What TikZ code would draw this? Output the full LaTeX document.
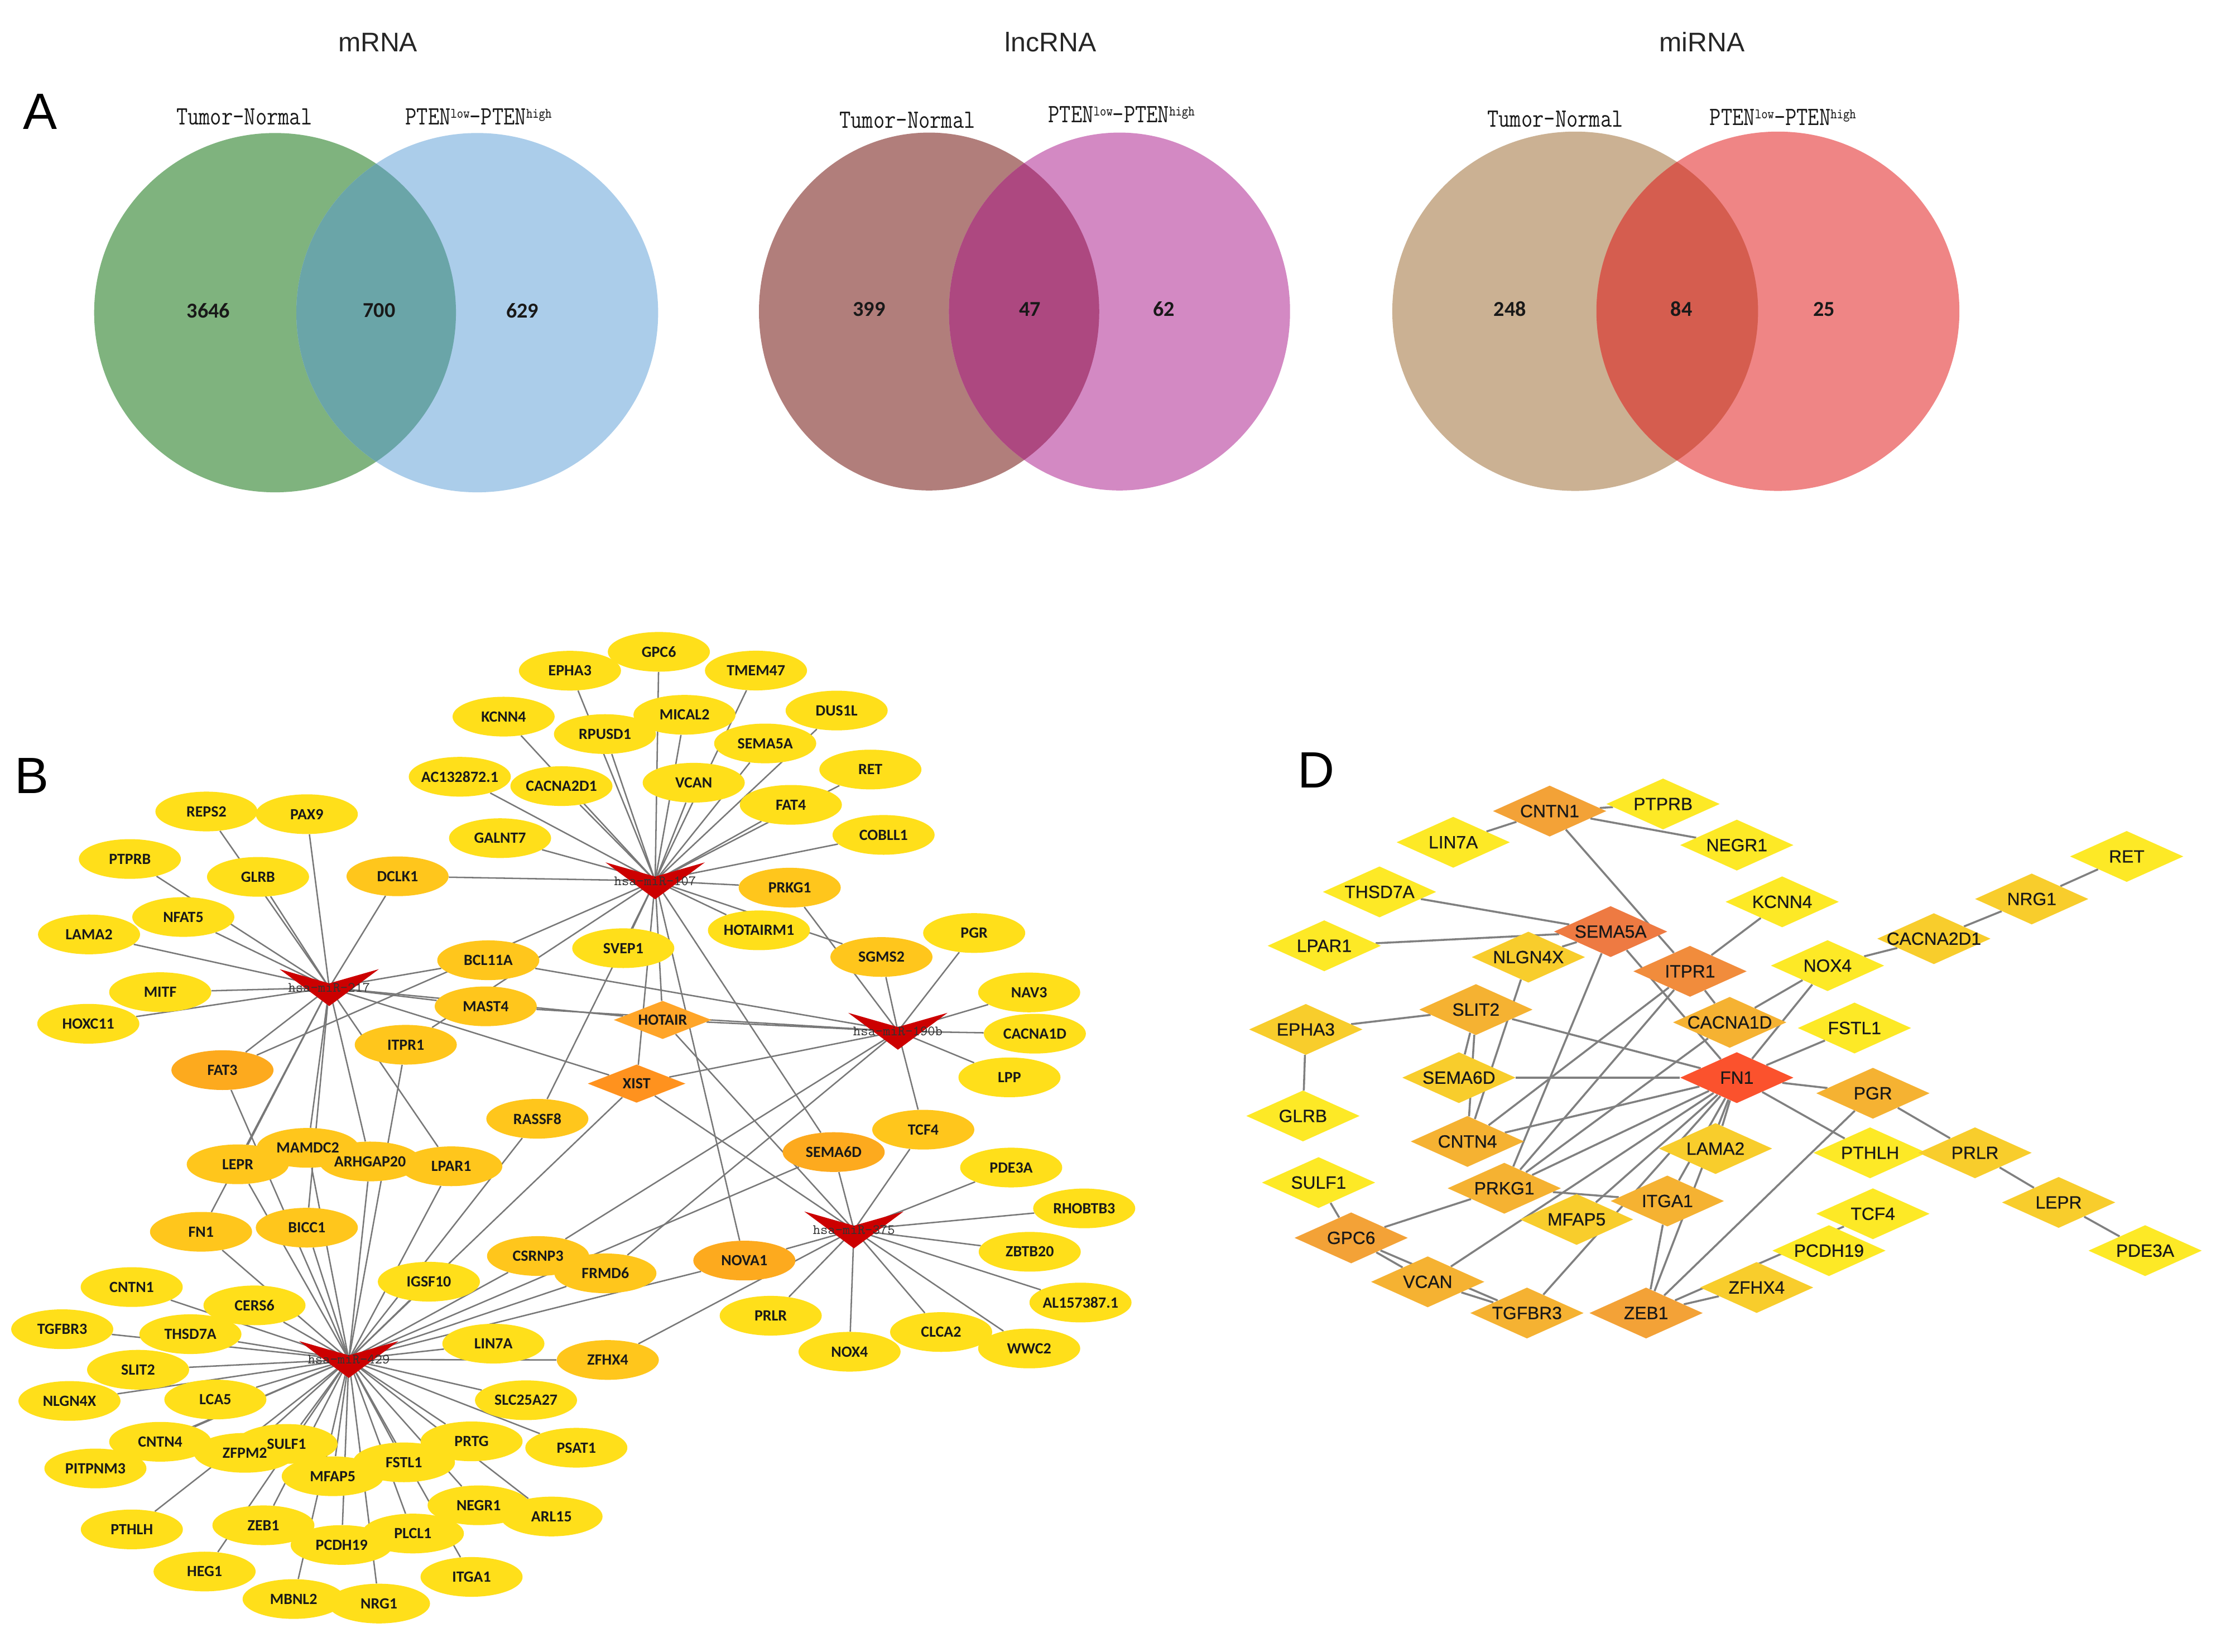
\documentclass[tikz,border=0pt]{standalone}
\usepackage{fontspec}
\newfontfamily\carl{Carlito}
\newfontfamily\lsans{Liberation Sans}
\newfontfamily\lsansfb{Liberation Sans}[FakeBold=0.6]
\usetikzlibrary{shapes.geometric,backgrounds}
\pgfdeclarelayer{background}
\pgfdeclarelayer{fg}
\pgfsetlayers{background,main,fg}
% panel A colours
\definecolor{vAl}{RGB}{127,179,126}\definecolor{vAr}{RGB}{171,205,234}\definecolor{vAo}{RGB}{106,165,168}
\definecolor{vBl}{RGB}{177,126,123}\definecolor{vBr}{RGB}{211,137,195}\definecolor{vBo}{RGB}{173,72,128}
\definecolor{vCl}{RGB}{203,177,147}\definecolor{vCr}{RGB}{239,133,133}\definecolor{vCo}{RGB}{213,93,79}
% panel B colours
\definecolor{byel}{RGB}{255,223,26}\definecolor{bora}{RGB}{255,198,28}\definecolor{bdark}{RGB}{253,170,30}
\definecolor{bhot}{RGB}{255,165,40}\definecolor{bxist}{RGB}{255,146,30}\definecolor{bred}{RGB}{204,0,0}
\definecolor{bedgec}{RGB}{120,120,120}
% panel D colours
\definecolor{dyel}{RGB}{253,233,38}\definecolor{dyo}{RGB}{248,205,44}\definecolor{dor}{RGB}{245,178,50}
\definecolor{dor2}{RGB}{243,162,55}\definecolor{ditp}{RGB}{241,140,60}\definecolor{dsem}{RGB}{238,122,66}
\definecolor{dfn}{RGB}{251,82,45}\definecolor{dedgec}{RGB}{128,128,128}
\newcommand\bgene[4]{\node[bell,fill=#4] (#1) at (#2) {};\begin{pgfonlayer}{fg}\node[btext] (#1-t) at (#1) {#3};\end{pgfonlayer}}
\newcommand\bdiam[4]{\node[bdia,fill=#4] (#1) at (#2) {};\begin{pgfonlayer}{fg}\node[btext] (#1-t) at (#1) {#3};\end{pgfonlayer}}
\newcommand\mirna[3]{\node[mir] (#1) at (#2) {};\fill[bred] (#1.center) ++(-35,-13) -- ++(35,10) -- ++(35,-10) -- ++(-35,26) -- cycle;\begin{pgfonlayer}{fg}\node[mirtext] (#1-t) at (#1) {#3};\end{pgfonlayer}}
\newcommand\dgene[4]{\node[ddia,fill=#4] (#1) at (#2) {};\begin{pgfonlayer}{fg}\node[dtext] (#1-t) at (#1) {#3};\end{pgfonlayer}}
\begin{document}
\begin{tikzpicture}[x=1pt,y=-1pt,
  bell/.style={ellipse,minimum width=72pt,minimum height=28pt,inner sep=0pt},
  btext/.style={font=\carl\bfseries\fontsize{11}{12}\selectfont,text=black!90,inner sep=0pt},
  bdia/.style={diamond,minimum width=69pt,minimum height=27pt,inner sep=0pt},
  mir/.style={circle,inner sep=0pt,minimum size=0.1pt},
  mirtext/.style={font=\ttfamily\fontsize{10}{11}\selectfont,text=black!80,inner sep=0pt},
  bedge/.style={draw=bedgec,line width=1pt},
  ddia/.style={diamond,minimum width=80pt,minimum height=36pt,inner sep=0pt},
  dtext/.style={font=\lsansfb\fontsize{12.5}{14}\selectfont,text=black!90,inner sep=0pt},
  dedge/.style={draw=dedgec,line width=1.4pt},
  title/.style={font=\lsans\fontsize{19}{22}\selectfont,text=black!85,inner sep=0pt},
  plet/.style={font=\lsans\fontsize{36}{40}\selectfont,text=black,inner sep=0pt},
  vlab/.style={font=\ttfamily\fontsize{15.5}{17}\selectfont,text=black!90,inner sep=0pt,anchor=base},
  vnum/.style={font=\carl\bfseries\fontsize{15}{17}\selectfont,text=black!90,inner sep=0pt}
]
\useasboundingbox (0,0) rectangle (1563,1164.7);
\begin{pgfonlayer}{background}
\fill[white] (0,0) rectangle (1563,1164.7);
\end{pgfonlayer}
\newcommand\ptenlab{PTEN\raisebox{3.8pt}{\fontsize{8.5}{9}\selectfont low}-PTEN\raisebox{3.8pt}{\fontsize{8.5}{9}\selectfont high}}
% ================= Panel A =================
\node[plet] (lblA) at (28.5,78.7) {A};
\node[title] (t-mrna) at (266.5,29.8) {mRNA};
\node[title] (t-lnc) at (741,29.5) {lncRNA};
\node[title] (t-mir) at (1200.5,29.5) {miRNA};
% Venn 1
\fill[vAl] (194,220.5) ellipse [x radius=127.6, y radius=126.7];
\fill[vAr] (336.6,220.5) ellipse [x radius=127.6, y radius=126.7];
\begin{scope}
\clip (194,220.5) ellipse [x radius=127.6, y radius=126.7];
\fill[vAo] (336.6,220.5) ellipse [x radius=127.6, y radius=126.7];
\end{scope}
\node[vlab] (v1a) at (172.3,87.8) {\scalebox{1}[1.2]{Tumor-Normal}};
\node[vlab] (v1b) at (337.5,87.8) {\scalebox{1}[1.2]{\ptenlab}};
\node[vnum] (n1a) at (147,219) {3646};
\node[vnum] (n1b) at (267.5,219) {700};
\node[vnum] (n1c) at (368.5,219) {629};
% Venn 2
\fill[vBl] (655.3,219.7) ellipse [x radius=120, y radius=126.2];
\fill[vBr] (789.6,219.7) ellipse [x radius=120.3, y radius=126.2];
\begin{scope}
\clip (655.3,219.7) ellipse [x radius=120, y radius=126.2];
\fill[vBo] (789.6,219.7) ellipse [x radius=120.3, y radius=126.2];
\end{scope}
\node[vlab] (v2a) at (640,90.2) {\scalebox{1}[1.2]{Tumor-Normal}};
\node[vlab] (v2b) at (791,86.4) {\scalebox{1}[1.2]{\ptenlab}};
\node[vnum] (n2a) at (613,218) {399};
\node[vnum] (n2b) at (726.5,218) {47};
\node[vnum] (n2c) at (821,218) {62};
% Venn 3
\fill[vCl] (1111,219.5) ellipse [x radius=129, y radius=126.7];
\fill[vCr] (1254,219.5) ellipse [x radius=128, y radius=126.7];
\begin{scope}
\clip (1111,219.5) ellipse [x radius=129, y radius=126.7];
\fill[vCo] (1254,219.5) ellipse [x radius=128, y radius=126.7];
\end{scope}
\node[vlab] (v3a) at (1097,89.5) {\scalebox{1}[1.2]{Tumor-Normal}};
\node[vlab] (v3b) at (1257.5,88.3) {\scalebox{1}[1.2]{\ptenlab}};
\node[vnum] (n3a) at (1065,218) {248};
\node[vnum] (n3b) at (1186,218) {84};
\node[vnum] (n3c) at (1286.5,218) {25};
% ================= Panel B =================
\node[plet] (lblB) at (22.6,547) {B};
\bgene{b-epha3}{402,473}{EPHA3}{byel}
\bgene{b-gpc6}{464.7,459.7}{GPC6}{byel}
\bgene{b-tmem47}{533.2,472.9}{TMEM47}{byel}
\bgene{b-kcnn4}{355.2,505.4}{KCNN4}{byel}
\bgene{b-rpusd1}{426.7,517.7}{RPUSD1}{byel}
\bgene{b-mical2}{482.8,504.1}{MICAL2}{byel}
\bgene{b-dus1l}{590.1,501.1}{DUS1L}{byel}
\bgene{b-sema5a}{539.7,524.3}{SEMA5A}{byel}
\bgene{b-ac132872}{324.3,547.8}{AC132872.1}{byel}
\bgene{b-cacna2d1}{396,554.4}{CACNA2D1}{byel}
\bgene{b-vcan}{489.3,552}{VCAN}{byel}
\bgene{b-ret}{613.9,542.7}{RET}{byel}
\bgene{b-fat4}{557.8,567.6}{FAT4}{byel}
\bgene{b-galnt7}{352.7,591.1}{GALNT7}{byel}
\bgene{b-cobll1}{623.2,588.8}{COBLL1}{byel}
\bgene{b-dclk1}{280.4,618}{DCLK1}{bora}
\bgene{b-prkg1}{557,626}{PRKG1}{bora}
\bgene{b-hotairm1}{535.3,656.1}{HOTAIRM1}{byel}
\bgene{b-svep1}{439.6,668.7}{SVEP1}{byel}
\bgene{b-pgr}{687.1,658}{PGR}{byel}
\bgene{b-sgms2}{621.7,674.9}{SGMS2}{bora}
\bgene{b-bcl11a}{344.4,677.2}{BCL11A}{bora}
\bgene{b-mast4}{342.6,709.7}{MAST4}{bora}
\bgene{b-nav3}{725.9,699.9}{NAV3}{byel}
\bgene{b-cacna1d}{729.9,729}{CACNA1D}{byel}
\bgene{b-lpp}{712,759.8}{LPP}{byel}
\bgene{b-itpr1}{286.2,736.8}{ITPR1}{bora}
\bgene{b-fat3}{156.9,754.7}{FAT3}{bdark}
\bgene{b-rassf8}{379,789}{RASSF8}{bora}
\bgene{b-tcf4}{651.2,796.7}{TCF4}{bora}
\bgene{b-sema6d}{588,812.5}{SEMA6D}{bdark}
\bgene{b-pde3a}{713.2,823.4}{PDE3A}{byel}
\bgene{b-rhobtb3}{764.7,852.2}{RHOBTB3}{byel}
\bgene{b-zbtb20}{726.3,882.8}{ZBTB20}{byel}
\bgene{b-al157387}{762.1,918.6}{AL157387.1}{byel}
\bgene{b-nova1}{525,889}{NOVA1}{bdark}
\bgene{b-csrnp3}{379.5,885.8}{CSRNP3}{bora}
\bgene{b-frmd6}{427,898}{FRMD6}{bora}
\bgene{b-prlr}{543.6,927.9}{PRLR}{byel}
\bgene{b-clca2}{663.8,939.4}{CLCA2}{byel}
\bgene{b-nox4}{599.2,953.3}{NOX4}{byel}
\bgene{b-wwc2}{725.9,951}{WWC2}{byel}
\bgene{b-zfhx4}{428.7,959.1}{ZFHX4}{bora}
\bgene{b-reps2}{145.6,572.3}{REPS2}{byel}
\bgene{b-pax9}{216.4,574.2}{PAX9}{byel}
\bgene{b-ptprb}{91.6,605.8}{PTPRB}{byel}
\bgene{b-glrb}{182,618.4}{GLRB}{byel}
\bgene{b-nfat5}{129.3,646.7}{NFAT5}{byel}
\bgene{b-lama2}{62.8,659}{LAMA2}{byel}
\bgene{b-mitf}{113,699.7}{MITF}{byel}
\bgene{b-hoxc11}{62.3,722}{HOXC11}{byel}
\bgene{b-mamdc2}{217.1,809.5}{MAMDC2}{bora}
\bgene{b-lepr}{167.7,821.1}{LEPR}{bora}
\bgene{b-arhgap20}{261,819.1}{ARHGAP20}{bora}
\bgene{b-lpar1}{318.3,822.5}{LPAR1}{bora}
\bgene{b-fn1}{141.8,868.7}{FN1}{bora}
\bgene{b-bicc1}{216.4,865.8}{BICC1}{bora}
\bgene{b-igsf10}{302.5,903.9}{IGSF10}{byel}
\bgene{b-cntn1}{92.9,907.7}{CNTN1}{byel}
\bgene{b-cers6}{179.5,920.6}{CERS6}{byel}
\bgene{b-tgfbr3}{43.9,937.4}{TGFBR3}{byel}
\bgene{b-thsd7a}{134.3,940.9}{THSD7A}{byel}
\bgene{b-slit2}{97.4,966}{SLIT2}{byel}
\bgene{b-lin7a}{348,947.6}{LIN7A}{byel}
\bgene{b-nlgn4x}{49,988}{NLGN4X}{byel}
\bgene{b-lca5}{151.9,987}{LCA5}{byel}
\bgene{b-slc25a27}{371,987.5}{SLC25A27}{byel}
\bgene{b-cntn4}{113,1016.8}{CNTN4}{byel}
\bgene{b-pitpnm3}{67.3,1035.6}{PITPNM3}{byel}
\bgene{b-zfpm2}{172.7,1024.6}{ZFPM2}{byel}
\bgene{b-sulf1}{202.1,1018.3}{SULF1}{byel}
\bgene{b-prtg}{332.6,1016.5}{PRTG}{byel}
\bgene{b-psat1}{406.5,1021}{PSAT1}{byel}
\bgene{b-mfap5}{234.7,1041.1}{MFAP5}{byel}
\bgene{b-fstl1}{284.9,1031.3}{FSTL1}{byel}
\bgene{b-negr1}{337.6,1061.6}{NEGR1}{byel}
\bgene{b-arl15}{389,1069.5}{ARL15}{byel}
\bgene{b-pthlh}{93,1078.6}{PTHLH}{byel}
\bgene{b-zeb1}{185.8,1075.7}{ZEB1}{byel}
\bgene{b-plcl1}{291.2,1081.5}{PLCL1}{byel}
\bgene{b-pcdh19}{241,1089.6}{PCDH19}{byel}
\bgene{b-heg1}{144.3,1108.3}{HEG1}{byel}
\bgene{b-itga1}{332.6,1112.1}{ITGA1}{byel}
\bgene{b-mbnl2}{207.1,1127.7}{MBNL2}{byel}
\bgene{b-nrg1}{267.3,1130.9}{NRG1}{byel}
\bdiam{b-hotair}{467.4,719.3}{HOTAIR}{bhot}
\bdiam{b-xist}{449,764.2}{XIST}{bxist}
\mirna{b-m107}{462.1,621.2}{hsa-miR-107}
\mirna{b-m217}{232.2,696.5}{hsa-miR-217}
\mirna{b-m190}{633.3,727.3}{hsa-miR-190b}
\mirna{b-m375}{602.3,867.4}{hsa-miR-375}
\mirna{b-m429}{246,958.8}{hsa-miR-429}
\begin{pgfonlayer}{background}
\foreach \n in {epha3,gpc6,tmem47,kcnn4,mical2,rpusd1,dus1l,sema5a,ac132872,cacna2d1,vcan,ret,fat4,galnt7,cobll1,hotairm1,svep1,dclk1,prkg1,sgms2,fat3,itpr1,rassf8,hotair,xist,nova1,sema6d}
  \draw[bedge] (b-m107) -- (b-\n);
\foreach \n in {reps2,pax9,ptprb,glrb,nfat5,lama2,mitf,hoxc11,dclk1,bcl11a,mast4,hotair,xist,fat3,lepr,mamdc2,bicc1,arhgap20,lpar1,fn1}
  \draw[bedge] (b-m217) -- (b-\n);
\foreach \n in {sgms2,prkg1,pgr,nav3,cacna1d,lpp,tcf4,hotair,xist,mast4,bcl11a,csrnp3,frmd6}
  \draw[bedge] (b-m190) -- (b-\n);
\foreach \n in {tcf4,sema6d,nova1,hotair,xist,zfhx4,pde3a,rhobtb3,zbtb20,al157387,prlr,nox4,clca2,wwc2}
  \draw[bedge] (b-m375) -- (b-\n);
\foreach \n in {cntn1,cers6,tgfbr3,thsd7a,slit2,lin7a,nlgn4x,lca5,slc25a27,cntn4,zfpm2,sulf1,prtg,psat1,mfap5,fstl1,pitpnm3,negr1,arl15,pthlh,zeb1,pcdh19,plcl1,heg1,itga1,mbnl2,nrg1,igsf10,fn1,lepr,mamdc2,bicc1,arhgap20,lpar1,fat3,itpr1,rassf8,xist,csrnp3,frmd6,nova1,sema6d,zfhx4}
  \draw[bedge] (b-m429) -- (b-\n);
\end{pgfonlayer}
% ================= Panel D =================
\node[plet] (lblD) at (928.5,543) {D};
\dgene{d-cntn1}{1093,572}{CNTN1}{dor2}
\dgene{d-ptprb}{1173,567}{PTPRB}{dyel}
\dgene{d-lin7a}{1025,594}{LIN7A}{dyel}
\dgene{d-negr1}{1225,596}{NEGR1}{dyel}
\dgene{d-thsd7a}{973,629}{THSD7A}{dyel}
\dgene{d-kcnn4}{1257,636}{KCNN4}{dyel}
\dgene{d-ret}{1500,604}{RET}{dyel}
\dgene{d-nrg1}{1433,634}{NRG1}{dyo}
\dgene{d-cacna2d1}{1364,662}{CACNA2D1}{dyo}
\dgene{d-lpar1}{934,667}{LPAR1}{dyel}
\dgene{d-nlgn4x}{1078,675}{NLGN4X}{dyo}
\dgene{d-sema5a}{1136,657}{SEMA5A}{dsem}
\dgene{d-nox4}{1289,681}{NOX4}{dyel}
\dgene{d-itpr1}{1192,685}{ITPR1}{ditp}
\dgene{d-slit2}{1041,712}{SLIT2}{dor}
\dgene{d-cacna1d}{1220,721}{CACNA1D}{dor}
\dgene{d-fstl1}{1308,725}{FSTL1}{dyel}
\dgene{d-epha3}{921,726}{EPHA3}{dyo}
\dgene{d-sema6d}{1029,760}{SEMA6D}{dyo}
\dgene{d-fn1}{1225,760}{FN1}{dfn}
\dgene{d-pgr}{1321,771}{PGR}{dor}
\dgene{d-glrb}{919,787}{GLRB}{dyel}
\dgene{d-cntn4}{1035,805}{CNTN4}{dor}
\dgene{d-lama2}{1210,810}{LAMA2}{dyo}
\dgene{d-pthlh}{1319,813}{PTHLH}{dyel}
\dgene{d-prlr}{1393,813}{PRLR}{dyo}
\dgene{d-sulf1}{930,834}{SULF1}{dyel}
\dgene{d-prkg1}{1061,838}{PRKG1}{dor}
\dgene{d-itga1}{1176,847}{ITGA1}{dor}
\dgene{d-lepr}{1452,848}{LEPR}{dyo}
\dgene{d-tcf4}{1321,856}{TCF4}{dyel}
\dgene{d-mfap5}{1112,860}{MFAP5}{dyo}
\dgene{d-gpc6}{953,873}{GPC6}{dor2}
\dgene{d-pcdh19}{1290,882}{PCDH19}{dyel}
\dgene{d-pde3a}{1513,882}{PDE3A}{dyel}
\dgene{d-vcan}{1007,904}{VCAN}{dor}
\dgene{d-zfhx4}{1239,908}{ZFHX4}{dyo}
\dgene{d-tgfbr3}{1077,926}{TGFBR3}{dor}
\dgene{d-zeb1}{1161,926}{ZEB1}{dor2}
\begin{pgfonlayer}{background}
\foreach \a/\b in {cntn1/lin7a,cntn1/ptprb,cntn1/negr1,cntn1/itpr1,thsd7a/sema5a,lpar1/sema5a,nlgn4x/sema5a,sema5a/fn1,epha3/slit2,epha3/glrb,slit2/sema6d,slit2/fn1,sema6d/fn1,nlgn4x/cntn4,slit2/cntn4,sema5a/prkg1,itpr1/prkg1,cacna1d/prkg1,fn1/prkg1,cntn4/fn1,cntn4/itpr1,kcnn4/itpr1,itpr1/cacna1d,nox4/cacna2d1,cacna2d1/nrg1,nrg1/ret,nox4/cacna1d,nox4/fn1,fstl1/fn1,fn1/pgr,fn1/pthlh,pgr/prlr,prlr/lepr,lepr/pde3a,pgr/zeb1,zeb1/tcf4,zeb1/zfhx4,zeb1/itga1,zeb1/fn1,itga1/fn1,lama2/fn1,sulf1/gpc6,gpc6/prkg1,gpc6/vcan,gpc6/tgfbr3,vcan/tgfbr3,vcan/fn1,tgfbr3/fn1,prkg1/itga1,mfap5/fn1}
  \draw[dedge] (d-\a) -- (d-\b);
\end{pgfonlayer}
\end{tikzpicture}
\end{document}
